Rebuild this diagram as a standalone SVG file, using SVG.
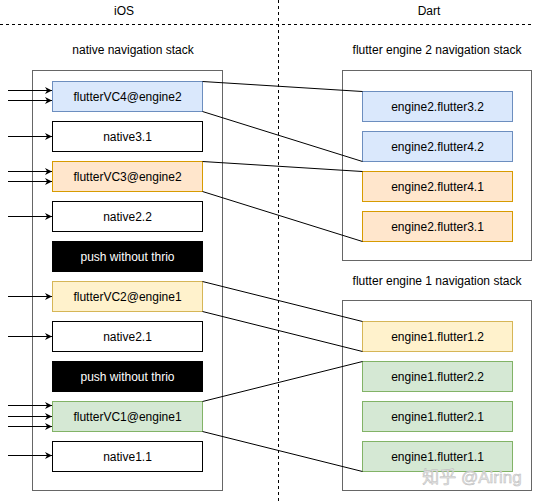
<svg xmlns="http://www.w3.org/2000/svg" width="533" height="501" viewBox="0 0 533 501">
<defs>
<marker id="ah" viewBox="0 0 10 10" refX="10" refY="5" markerWidth="7" markerHeight="7" orient="auto" markerUnits="userSpaceOnUse">
<path d="M0,0 L10,5 L0,10 L3,5 z" fill="#000"/>
</marker>
<style>
text{font-family:"Liberation Sans",Arial,sans-serif;font-size:12px;text-anchor:middle;dominant-baseline:central;fill:#000}
.cont{fill:#fff;stroke:#666;stroke-width:1}
.w{fill:#fff;stroke:#000}
.k{fill:#000;stroke:#000}
.kt{fill:#fff}
.b{fill:#dae8fc;stroke:#6c8ebf}
.o{fill:#ffe6cc;stroke:#d79b00}
.y{fill:#fff2cc;stroke:#d6b656}
.g{fill:#d5e8d4;stroke:#82b366}
.dash{stroke:#000;stroke-dasharray:3 3;fill:none}
.ln{stroke:#000;fill:none}
.arr{stroke:#000;fill:none;marker-end:url(#ah)}
</style>
</defs>
<rect width="533" height="501" fill="#fff"/>
<g id="lanes">
<line class="dash" x1="0" y1="24.5" x2="533" y2="24.5"/>
<line class="dash" x1="278.5" y1="0" x2="278.5" y2="501"/>
<text x="124" y="11">iOS</text>
<text x="429" y="11">Dart</text>
<text x="133" y="50">native navigation stack</text>
<text x="437" y="50">flutter engine 2 navigation stack</text>
<text x="437" y="281">flutter engine 1 navigation stack</text>
</g>
<g id="native-stack"><rect class="cont" x="32.5" y="70.5" width="190" height="420"/></g>
<g id="engine2-stack"><rect class="cont" x="342.5" y="70.5" width="189" height="190"/></g>
<g id="engine1-stack"><rect class="cont" x="342.5" y="300.5" width="189" height="190"/></g>
<g id="flutterVC4"><rect class="b" x="52.5" y="81.5" width="150" height="30"/><text x="127.5" y="96.5">flutterVC4@engine2</text></g>
<g id="native3.1"><rect class="w" x="52.5" y="121.5" width="150" height="30"/><text x="127.5" y="136.5">native3.1</text></g>
<g id="flutterVC3"><rect class="o" x="52.5" y="161.5" width="150" height="30"/><text x="127.5" y="176.5">flutterVC3@engine2</text></g>
<g id="native2.2"><rect class="w" x="52.5" y="201.5" width="150" height="30"/><text x="127.5" y="216.5">native2.2</text></g>
<g id="push1"><rect class="k" x="52.5" y="241.5" width="150" height="30"/><text class="kt" x="127.5" y="256.5">push without thrio</text></g>
<g id="flutterVC2"><rect class="y" x="52.5" y="281.5" width="150" height="30"/><text x="127.5" y="296.5">flutterVC2@engine1</text></g>
<g id="native2.1"><rect class="w" x="52.5" y="321.5" width="150" height="30"/><text x="127.5" y="336.5">native2.1</text></g>
<g id="push2"><rect class="k" x="52.5" y="361.5" width="150" height="30"/><text class="kt" x="127.5" y="376.5">push without thrio</text></g>
<g id="flutterVC1"><rect class="g" x="52.5" y="401.5" width="150" height="30"/><text x="127.5" y="416.5">flutterVC1@engine1</text></g>
<g id="native1.1"><rect class="w" x="52.5" y="441.5" width="150" height="30"/><text x="127.5" y="456.5">native1.1</text></g>
<g id="e2f32"><rect class="b" x="362.5" y="91.5" width="150" height="30"/><text x="437.5" y="106.5">engine2.flutter3.2</text></g>
<g id="e2f42"><rect class="b" x="362.5" y="131.5" width="150" height="30"/><text x="437.5" y="146.5">engine2.flutter4.2</text></g>
<g id="e2f41"><rect class="o" x="362.5" y="171.5" width="150" height="30"/><text x="437.5" y="186.5">engine2.flutter4.1</text></g>
<g id="e2f31"><rect class="o" x="362.5" y="211.5" width="150" height="30"/><text x="437.5" y="226.5">engine2.flutter3.1</text></g>
<g id="e1f12"><rect class="y" x="362.5" y="321.5" width="150" height="30"/><text x="437.5" y="336.5">engine1.flutter1.2</text></g>
<g id="e1f22"><rect class="g" x="362.5" y="361.5" width="150" height="30"/><text x="437.5" y="376.5">engine1.flutter2.2</text></g>
<g id="e1f21"><rect class="g" x="362.5" y="401.5" width="150" height="30"/><text x="437.5" y="416.5">engine1.flutter2.1</text></g>
<g id="e1f11"><rect class="g" x="362.5" y="441.5" width="150" height="30"/><text x="437.5" y="456.5">engine1.flutter1.1</text></g>
<g id="connectors">
<line class="ln" x1="202.5" y1="81.5" x2="362.5" y2="91.5"/>
<line class="ln" x1="202.5" y1="111.5" x2="362.5" y2="161.5"/>
<line class="ln" x1="202.5" y1="161.5" x2="362.5" y2="171.5"/>
<line class="ln" x1="202.5" y1="191.5" x2="362.5" y2="241.5"/>
<line class="ln" x1="202.5" y1="281.5" x2="362.5" y2="321.5"/>
<line class="ln" x1="202.5" y1="311.5" x2="362.5" y2="351.5"/>
<line class="ln" x1="202.5" y1="401.5" x2="362.5" y2="361.5"/>
<line class="ln" x1="202.5" y1="431.5" x2="362.5" y2="471.5"/>
<line class="arr" x1="8" y1="90.5" x2="52" y2="90.5"/>
<line class="arr" x1="8" y1="100.5" x2="52" y2="100.5"/>
<line class="arr" x1="8" y1="136.5" x2="52" y2="136.5"/>
<line class="arr" x1="8" y1="171.5" x2="52" y2="171.5"/>
<line class="arr" x1="8" y1="181.5" x2="52" y2="181.5"/>
<line class="arr" x1="8" y1="216.5" x2="52" y2="216.5"/>
<line class="arr" x1="8" y1="296.5" x2="52" y2="296.5"/>
<line class="arr" x1="8" y1="336.5" x2="52" y2="336.5"/>
<line class="arr" x1="8" y1="405.5" x2="52" y2="405.5"/>
<line class="arr" x1="8" y1="416.5" x2="52" y2="416.5"/>
<line class="arr" x1="8" y1="426.5" x2="52" y2="426.5"/>
<line class="arr" x1="8" y1="455.5" x2="52" y2="455.5"/>
</g>
<text x="472" y="477" style="font-family:'Liberation Sans','Noto Sans CJK SC',sans-serif;font-size:17px;fill:#e6e6e6;stroke:#bbb;stroke-width:0.5">知乎 @Airing</text>
</svg>
